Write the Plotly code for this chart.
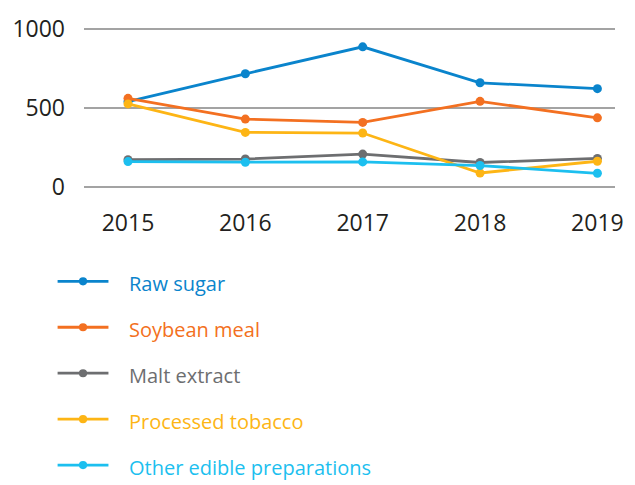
import plotly.graph_objects as go

years = [2015, 2016, 2017, 2018, 2019]
series_names = ["Raw sugar", "Soybean meal", "Malt extract", "Processed tobacco", "Other edible preparations"]
raw_sugar = [540, 716, 886, 659, 622]
soybean_meal = [561, 430, 409, 542, 438]
malt_extract = [174, 178, 209, 156, 182]
processed_tobacco = [526, 346, 342, 90, 164]
other_edible = [162, 158, 160, 137, 88]
series_values = [raw_sugar, soybean_meal, malt_extract, processed_tobacco, other_edible]
colors = ["#0a84cc", "#f37021", "#6d6e70", "#fdb515", "#1cbfef"]
y_ticks = [0, 500, 1000]

W, H = 635, 485
ML, MR, MT, MB = 80, 12, 19, 293
PW, PH = W - ML - MR, H - MT - MB

fig = go.Figure()
for name, vals, col in zip(series_names, series_values, colors):
    fig.add_trace(go.Scatter(
        x=years, y=vals, name=name, mode="lines+markers",
        line=dict(color=col, width=2.8),
        marker=dict(color=col, size=9),
        showlegend=False,
    ))

# custom legend (long line samples like the reference)
legend_top_px = 284
legend_step_px = 47.3
for i, (name, col) in enumerate(zip(series_names, colors)):
    ypx = legend_top_px + i * legend_step_px
    yp = (MT + PH - ypx) / PH
    x0 = (53 - ML) / PW
    x1 = (105 - ML) / PW
    xm = (79 - ML) / PW
    fig.add_shape(type="line", xref="paper", yref="paper", x0=x0, x1=x1, y0=yp, y1=yp,
                  line=dict(color=col, width=2.8))
    r = 4.2 / PW
    rh = 4.2 / PH
    fig.add_shape(type="circle", xref="paper", yref="paper", x0=xm - r, x1=xm + r,
                  y0=yp - rh, y1=yp + rh, fillcolor=col, line=dict(color=col, width=0))
    fig.add_annotation(xref="paper", yref="paper", x=(124 - ML) / PW, y=yp - 2 / PH,
                       text=name, showarrow=False, xanchor="left", yanchor="middle",
                       font=dict(family="Open Sans", size=20, color=col))

fig.update_layout(
    width=W, height=H,
    margin=dict(l=ML, r=MR, t=MT, b=MB, pad=0),
    paper_bgcolor="white", plot_bgcolor="white",
    font=dict(family="Open Sans", color="#231f20"),
)
fig.update_xaxes(
    range=[2014.625, 2019.15], tickvals=years, ticktext=[str(y) for y in years],
    showgrid=False, zeroline=False, showline=False, ticks="",
    tickfont=dict(family="Open Sans", size=23, color="#231f20"),
    ticklabelstandoff=15,
)
fig.update_yaxes(
    range=[-30, 1030], tickvals=y_ticks,
    showgrid=True, gridcolor="#a3a3a3", gridwidth=2,
    zeroline=False, showline=False, ticks="",
    tickfont=dict(family="Open Sans", size=23, color="#231f20"),
    ticklabelstandoff=18,
)

fig.write_html(
    "out.html",
    config={"displayModeBar": False},
    post_script="document.body.style.margin='0px';document.body.style.overflow='hidden';",
)
